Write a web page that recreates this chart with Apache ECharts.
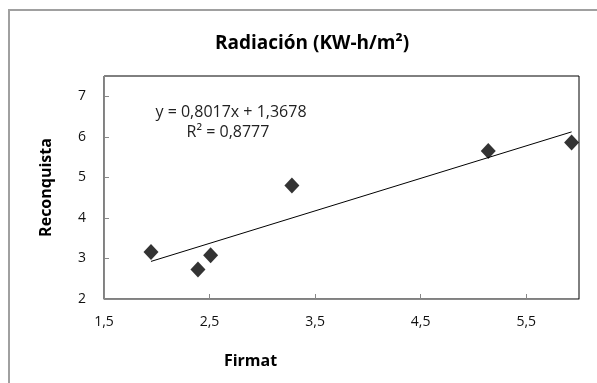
<!DOCTYPE html>
<html>
<head>
<meta charset="utf-8">
<script src="https://cdn.jsdelivr.net/npm/echarts@6/dist/echarts.min.js"></script>
<style>
  html, body { margin: 0; padding: 0; background: #fff; }
  #chart { width: 597px; height: 383px; }
</style>
</head>
<body>
<div id="chart"></div>
<script>
// Firmat vs Reconquista radiation readings
const firmat = [1.945, 2.39, 2.51, 3.28, 5.14, 5.93];
const reconquista = [3.16, 2.73, 3.08, 4.8, 5.65, 5.86];

// Linear trend shown on the chart
const slope = 0.8017;
const intercept = 1.3678;
const equationText = 'y = 0,8017x + 1,3678';
const r2Text = 'R² = 0,8777';

const FONT = '"Open Sans", "Noto Sans", sans-serif';

const xMinData = Math.min(...firmat);
const xMaxData = Math.max(...firmat);
const trend = [
  [xMinData, slope * xMinData + intercept],
  [xMaxData, slope * xMaxData + intercept],
];

const comma = (v) => String(v).replace('.', ',');

const chart = echarts.init(document.getElementById('chart'), null, { renderer: 'canvas' });

chart.setOption({
  animation: false,
  backgroundColor: '#fff',
  title: {
    text: 'Radiación (KW-h/m²)',
    left: 307,
    top: 29,
    textAlign: 'center',
    textStyle: { fontFamily: FONT, fontSize: 19, fontWeight: 'bold', color: '#000' },
  },
  // Plot box: black top/right, gray axis lines on left/bottom drawn over it
  grid: {
    left: 104, right: 18, top: 76, bottom: 84,
    show: true, borderColor: '#000', borderWidth: 1,
  },
  xAxis: {
    type: 'value',
    min: 1.5, max: 6, interval: 1,
    name: 'Firmat',
    nameLocation: 'middle',
    nameGap: 54,
    nameTextStyle: { fontFamily: FONT, fontSize: 16, fontWeight: 'bold', color: '#000', padding: [0, 182, 0, 0] },
    axisLine: { show: true, lineStyle: { color: '#888', width: 1 } },
    axisTick: { show: true, inside: true, length: 5, lineStyle: { color: '#888' } },
    axisLabel: {
      showMaxLabel: false, margin: 16,
      fontFamily: FONT, fontSize: 14, color: '#111',
      formatter: comma,
    },
    splitLine: { show: false },
  },
  yAxis: {
    type: 'value',
    min: 2, max: 7.5, interval: 1,
    name: 'Reconquista',
    nameLocation: 'middle',
    nameGap: 50,
    nameTextStyle: { fontFamily: FONT, fontSize: 16, fontWeight: 'bold', color: '#000' },
    axisLine: { show: true, lineStyle: { color: '#888', width: 1 } },
    axisTick: { show: true, inside: true, length: 5, lineStyle: { color: '#888' } },
    axisLabel: {
      showMaxLabel: false, margin: 18,
      fontFamily: FONT, fontSize: 14, color: '#111',
      formatter: comma,
    },
    splitLine: { show: false },
  },
  graphic: [
    // outer chart-area frame
    {
      type: 'rect',
      shape: { x: 9, y: 10, width: 600, height: 400 },
      style: { fill: 'none', stroke: '#a0a0a0', lineWidth: 2 },
      silent: true,
    },
    {
      type: 'text',
      x: 231, y: 112,
      style: {
        text: equationText, fontFamily: FONT, fontSize: 16, fill: '#222',
        textAlign: 'center', textVerticalAlign: 'middle',
      },
    },
    {
      type: 'text',
      x: 228, y: 132,
      style: {
        text: r2Text, fontFamily: FONT, fontSize: 16, fill: '#222',
        textAlign: 'center', textVerticalAlign: 'middle',
      },
    },
  ],
  series: [
    {
      name: 'Tendencia',
      type: 'line',
      data: trend,
      showSymbol: false,
      lineStyle: { color: '#000', width: 1 },
      z: 2,
    },
    {
      name: 'Radiación',
      type: 'scatter',
      data: firmat.map((x, i) => [x, reconquista[i]]),
      symbol: 'diamond',
      symbolSize: [15, 16],
      itemStyle: { color: '#000' },
      z: 3,
    },
  ],
});
</script>
</body>
</html>
